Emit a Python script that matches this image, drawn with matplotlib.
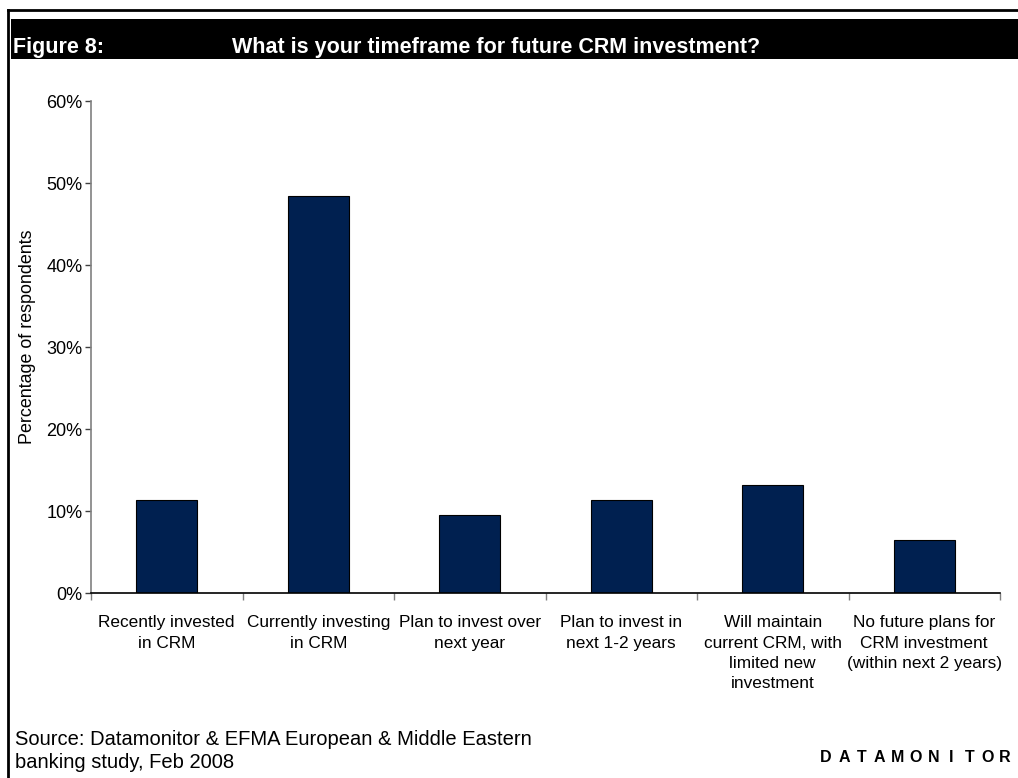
import numpy as np
import matplotlib
matplotlib.use("Agg")
import matplotlib.pyplot as plt
from matplotlib.ticker import PercentFormatter, FixedLocator
from matplotlib.patches import Rectangle
from matplotlib.lines import Line2D

plt.rcParams['font.family'] = ['Liberation Sans', 'DejaVu Sans']

categories = [
    "Recently invested\nin CRM",
    "Currently investing\nin CRM",
    "Plan to invest over\nnext year",
    "Plan to invest in\nnext 1-2 years",
    "Will maintain\ncurrent CRM, with\nlimited new\ninvestment",
    "No future plans for\nCRM investment\n(within next 2 years)",
]
shares = [11.3, 48.4, 9.5, 11.3, 13.2, 6.5]
y_ticks = [0, 10, 20, 30, 40, 50, 60]

W, H = 1018, 778
fig = plt.figure(figsize=(W / 100, H / 100), dpi=100)

def fx(px):
    return px / W

def fy(py):
    return 1 - py / H

# frame lines (top and left)
fig.add_artist(Line2D([fx(8), 1], [fy(10), fy(10)], color="black", lw=2))
fig.add_artist(Line2D([fx(8), fx(8)], [fy(10), 0], color="black", lw=2))

# black title band
fig.add_artist(Rectangle((fx(11), fy(59)), 1 - fx(11), fy(19) - fy(59),
                         facecolor="black", edgecolor="none"))
fig.text(fx(13), fy(48), "Figure 8:", color="white", fontsize=15.5,
         fontweight="bold", va="center", ha="left")
fig.text(fx(232), fy(48), "What is your timeframe for future CRM investment?",
         color="white", fontsize=15.5, fontweight="bold", va="center", ha="left")

ax = fig.add_axes([fx(91), fy(593), fx(1000) - fx(91), fy(101) - fy(593)])
x = np.arange(len(categories))
ax.bar(x, shares, width=0.4, color="#002050", edgecolor="black", linewidth=0.8)

ax.set_xlim(-0.5, len(categories) - 0.5)
ax.set_ylim(0, 60)
ax.yaxis.set_major_locator(FixedLocator(y_ticks))
ax.yaxis.set_major_formatter(PercentFormatter(decimals=0))

for side in ["top", "right"]:
    ax.spines[side].set_visible(False)
ax.spines["left"].set_color("#808080")
ax.spines["left"].set_linewidth(1.2)
ax.spines["bottom"].set_color("black")
ax.spines["bottom"].set_linewidth(1.2)

ax.tick_params(axis="y", length=4, width=1, color="#404040", labelsize=13,
               pad=2, labelcolor="#000000")
ax.set_xticks(np.arange(len(categories) + 1) - 0.5)
ax.set_xticklabels([])
ax.tick_params(axis="x", which="major", length=5, width=1, color="#808080")
ax.set_xticks(x, minor=True)
ax.set_xticklabels(categories, minor=True, fontsize=12.4, linespacing=1.45,
                   va="top", ha="center")
ax.tick_params(axis="x", which="minor", length=0, pad=16)

fig.text(fx(28), fy(337), "Percentage of respondents", rotation=90,
         fontsize=12.9, va="center", ha="center")

fig.text(fx(15), fy(751), "Source: Datamonitor & EFMA European & Middle Eastern\nbanking study, Feb 2008",
         fontsize=14.5, va="center", ha="left", linespacing=1.25)

# spaced-out logo lettering
logo = "DATAMONITOR"
for i, ch in enumerate(logo):
    fig.text(fx(826 + i * 17.9), fy(757), ch, fontsize=11.5,
             fontweight="bold", va="center", ha="center")

fig.savefig("out.png", dpi=100)
